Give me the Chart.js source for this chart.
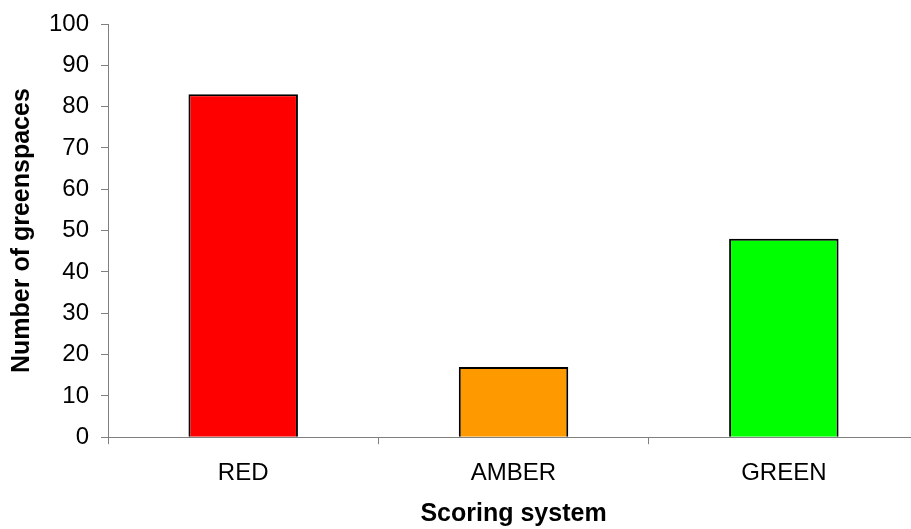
<!DOCTYPE html>
<html>
<head>
<meta charset="utf-8">
<script src="https://cdn.jsdelivr.net/npm/chart.js@4/dist/chart.umd.min.js"></script>
<style>
  html, body { margin: 0; padding: 0; background: #fff; overflow: hidden; }
  #wrap { width: 922px; height: 529px; }
</style>
</head>
<body>
<div id="wrap"><canvas id="barChart"></canvas></div>
<script>
// values
const categories = ["RED", "AMBER", "GREEN"];
const greenspaces = [83, 17, 48];
const yTicks = [0, 10, 20, 30, 40, 50, 60, 70, 80, 90, 100];

const barColors = ["#FF0000", "#FF9900", "#00FF00"];
const axisGrey = "#808080";
const font = "'Liberation Sans', Arial, sans-serif";

new Chart(document.getElementById("barChart").getContext("2d"), {
    type: "bar",
    data: {
        labels: categories,
        datasets: [{
            data: greenspaces,
            backgroundColor: barColors,
            borderColor: "#000",
            borderWidth: 2,
            barPercentage: 0.405,
            categoryPercentage: 1
        }]
    },
    options: {
        responsive: true,
        maintainAspectRatio: false,
        animation: false,
        layout: { padding: { top: 0, right: 3, left: 0, bottom: 0 } },
        plugins: {
            legend: { display: false },
            tooltip: { enabled: false }
        },
        scales: {
            x: {
                offset: true,
                grid: {
                    offset: true,
                    drawOnChartArea: false,
                    drawTicks: true,
                    tickLength: 7,
                    color: axisGrey
                },
                border: { color: axisGrey, width: 1 },
                ticks: {
                    color: "#000",
                    padding: 15,
                    font: { family: font, size: 24 }
                },
                title: {
                    display: true,
                    text: "Scoring system",
                    color: "#000",
                    padding: { top: -4, bottom: 0 },
                    font: { family: font, size: 25, weight: "bold" }
                }
            },
            y: {
                min: 0,
                max: 100,
                afterBuildTicks: (axis) => { axis.ticks = yTicks.map(v => ({ value: v })); },
                grid: {
                    drawOnChartArea: false,
                    drawTicks: true,
                    tickLength: 7,
                    color: axisGrey
                },
                border: { color: axisGrey, width: 1 },
                ticks: {
                    color: "#000",
                    padding: 12,
                    font: { family: font, size: 24, lineHeight: 1 }
                },
                title: {
                    display: true,
                    text: "Number of greenspaces",
                    color: "#000",
                    padding: { top: 7, bottom: 0 },
                    font: { family: font, size: 25, weight: "bold" }
                }
            }
        }
    }
});
</script>
</body>
</html>
